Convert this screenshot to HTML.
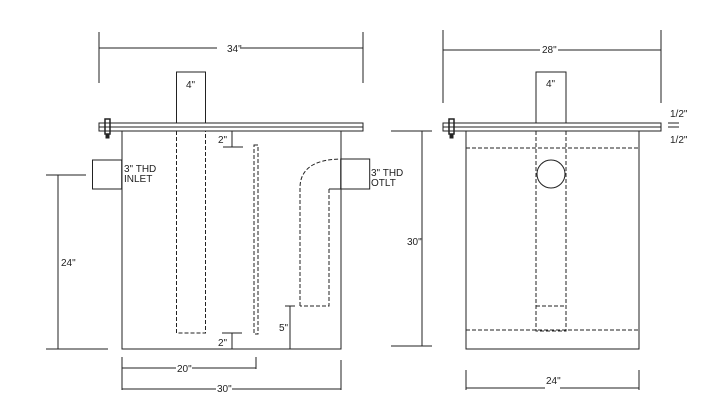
<!DOCTYPE html>
<html><head><style>
body{margin:0;background:#fff}
svg{display:block}
text{font-family:"Liberation Sans",sans-serif;font-size:10px;fill:#222}
</style></head><body>
<svg width="726" height="409" viewBox="0 0 726 409" xmlns="http://www.w3.org/2000/svg">
<g stroke="#222" stroke-width="1" fill="none">
<!-- LEFT VIEW -->
<line x1="99" y1="32" x2="99" y2="83"/><line x1="363" y1="32" x2="363" y2="83"/>
<line x1="99" y1="48" x2="217" y2="48"/><line x1="240" y1="48" x2="363" y2="48"/>
<rect x="176.5" y="72" width="29" height="51" fill="#fff"/>
<rect x="99" y="123" width="264" height="4"/><rect x="99" y="127" width="264" height="4"/>
<rect x="105" y="119" width="5" height="15" stroke-width="1.5"/>
<rect x="106" y="134" width="3" height="4" fill="#222"/>
<polyline points="122,131 122,349 341,349 341,131"/>
<rect x="92.5" y="160" width="29.2" height="29"/>
<rect x="340.7" y="159" width="29" height="30"/>
<g stroke-dasharray="4,2">
<polyline points="176.5,131 176.5,333 205.5,333 205.5,131"/>
<rect x="254" y="145" width="4" height="189"/>
<path d="M300,306 L300,188 Q300,160 340,159"/>
<polyline points="329,189 329,306 300,306"/>
</g>
<line x1="329" y1="189" x2="341" y2="189"/>
<line x1="58" y1="175" x2="58" y2="349"/>
<line x1="46" y1="175" x2="86" y2="175"/><line x1="46" y1="349" x2="108" y2="349"/>
<line x1="232" y1="131" x2="232" y2="147"/><line x1="223" y1="147" x2="243" y2="147"/>
<line x1="232" y1="333" x2="232" y2="349"/><line x1="222" y1="333" x2="242" y2="333"/>
<line x1="290" y1="306" x2="290" y2="349"/><line x1="285" y1="306" x2="295" y2="306"/>
<line x1="122" y1="357" x2="122" y2="390"/>
<line x1="122" y1="368" x2="176" y2="368"/><line x1="192" y1="368" x2="256" y2="368"/>
<line x1="256" y1="357" x2="256" y2="369"/>
<line x1="122" y1="389" x2="216" y2="389"/><line x1="232" y1="389" x2="341" y2="389"/>
<line x1="341" y1="360" x2="341" y2="390"/>
<!-- RIGHT VIEW -->
<line x1="443" y1="30" x2="443" y2="103"/><line x1="661" y1="30" x2="661" y2="103"/>
<line x1="443" y1="50" x2="540" y2="50"/><line x1="558" y1="50" x2="661" y2="50"/>
<rect x="536" y="72" width="30" height="51" fill="#fff"/>
<rect x="443" y="123" width="218" height="4"/><rect x="443" y="127" width="218" height="4"/>
<rect x="449" y="119" width="5" height="15" stroke-width="1.5"/>
<rect x="450" y="134" width="3" height="4" fill="#222"/>
<rect x="466" y="131" width="173" height="218"/>
<g stroke-dasharray="4,2">
<line x1="466" y1="148" x2="639" y2="148"/><line x1="466" y1="330" x2="639" y2="330"/>
<polyline points="536,131 536,331 566,331 566,131"/>
<line x1="536" y1="306" x2="566" y2="306"/>
</g>
<circle cx="551" cy="174" r="14" fill="#fff"/>
<line x1="422" y1="131" x2="422" y2="346"/>
<line x1="391" y1="131" x2="432" y2="131"/><line x1="391" y1="346" x2="432" y2="346"/>
<line x1="466" y1="370" x2="466" y2="390"/><line x1="639" y1="370" x2="639" y2="390"/>
<line x1="466" y1="388" x2="545" y2="388"/><line x1="560" y1="388" x2="639" y2="388"/>
<line x1="668" y1="123" x2="679" y2="123"/><line x1="668" y1="127" x2="679" y2="127"/>
</g>
<text x="227" y="52">34"</text>
<text x="186" y="88">4"</text>
<text x="124" y="172">3" THD</text><text x="124" y="182">INLET</text>
<text x="371" y="176">3" THD</text><text x="371" y="186">OTLT</text>
<text x="61" y="266">24"</text>
<text x="218" y="143">2"</text><text x="218" y="346">2"</text>
<text x="279" y="331">5"</text>
<text x="177" y="372">20"</text>
<text x="217" y="392">30"</text>
<text x="542" y="53">28"</text>
<text x="546" y="87">4"</text>
<text x="407" y="245">30"</text>
<text x="546" y="384">24"</text>
<text x="670" y="117">1/2"</text><text x="670" y="143">1/2"</text>
</svg>
</body></html>
